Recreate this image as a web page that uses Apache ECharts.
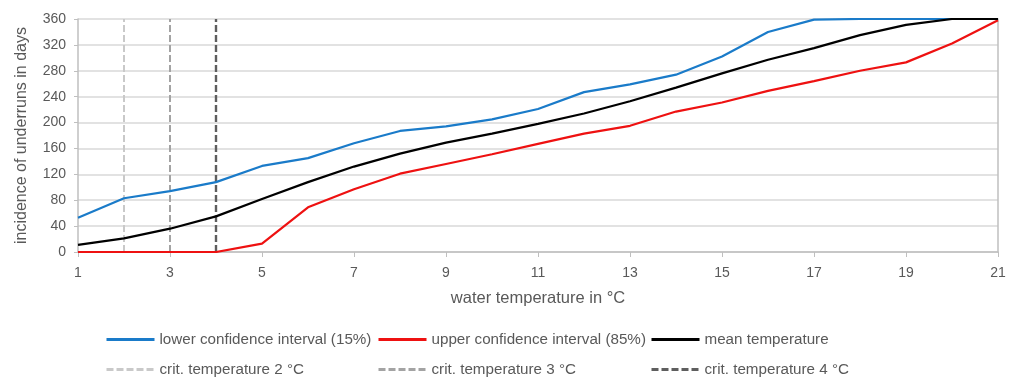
<!DOCTYPE html>
<html><head><meta charset="utf-8">
<script src="https://cdn.jsdelivr.net/npm/echarts@6/dist/echarts.min.js"></script>
<style>html,body{margin:0;padding:0;background:#fff}#c{width:1016px;height:378px}</style>
</head><body><div id="c"></div>
<script>
var categories = ['1','2','3','4','5','6','7','8','9','10','11','12','13','14','15','16','17','18','19','20','21'];
var lowerCI = [53,83,94,108,133,145,168,187,194,205,221,247,259,274,302,340,359,360,360,360,360];
var upperCI = [0,0,0,0,13,69,97,121,136,151,167,183,195,217,231,249,264,280,293,322,358];
var meanTemp = [11,21,36,55,82,108,132,152,169,183,198,214,233,254,276,297,315,335,351,360,360];
var critTemps = ['2','3','4'];
var critRange = [0,360];
var yTicks = [0,40,80,120,160,200,240,280,320,360];
var seriesNames = ['lower confidence interval (15%)','upper confidence interval (85%)','mean temperature',
  'crit. temperature 2 °C','crit. temperature 3 °C','crit. temperature 4 °C'];

var FONT = 'Liberation Sans';
var chart = echarts.init(document.getElementById('c'));
var critColors = ['#c9c9c9','#a3a3a3','#5e5e5e'];
var series = [
  {name: seriesNames[0], type:'line', data: lowerCI, color:'#1a7bc9', lineStyle:{width:2.2,color:'#1a7bc9'}, showSymbol:false, symbol:'none', z:5},
  {name: seriesNames[1], type:'line', data: upperCI, color:'#ee1111', lineStyle:{width:2.2,color:'#ee1111'}, showSymbol:false, symbol:'none', z:5},
  {name: seriesNames[2], type:'line', data: meanTemp, color:'#000', lineStyle:{width:2.2,color:'#000'}, showSymbol:false, symbol:'none', z:5}
];
critTemps.forEach(function(t,i){
  series.push({name: seriesNames[3+i], type:'line', data: critRange.map(function(v){return [t,v];}),
    color: critColors[i], lineStyle:{width: i===2 ? 2.4 : 2, type:[7,3], color: critColors[i]}, showSymbol:false, symbol:'none', z:3});
});
var legendPos = [[105,332],[377,332],[650,332],[105,362],[377,362],[650,362]];
var legends = seriesNames.map(function(n,i){
  return {data:[n], left:legendPos[i][0], top:legendPos[i][1], itemWidth:48, itemHeight:14, itemGap:0,
    itemStyle:{opacity:0}, lineStyle:{width:3, type: i>=3 ? [7,3] : 'solid'},
    textStyle:{fontFamily:FONT, fontSize:15.2, color:'#595959'}, selectedMode:false, padding:0};
});
chart.setOption({
  animation:false,
  textStyle:{fontFamily:FONT},
  legend: legends,
  grid:{left:78, right:18, top:19, bottom:126, containLabel:false},
  xAxis:{type:'category', data:categories, boundaryGap:false,
    name:'water temperature in °C', nameLocation:'middle', nameGap:38,
    nameTextStyle:{fontFamily:FONT, fontSize:16.5, color:'#595959'},
    axisLine:{lineStyle:{color:'#bfbfbf', width:1.5}},
    axisTick:{interval:1, length:5, lineStyle:{color:'#bfbfbf'}},
    axisLabel:{interval:1, fontFamily:FONT, fontSize:14, color:'#595959', margin:14},
    splitLine:{show:false}},
  yAxis:[{type:'value', min:yTicks[0], max:yTicks[yTicks.length-1], interval:40,
    name:'incidence of underruns in days', nameLocation:'middle', nameGap:48,
    nameTextStyle:{fontFamily:FONT, fontSize:16, color:'#595959'},
    axisLine:{show:true, lineStyle:{color:'#bfbfbf', width:1.5}},
    axisTick:{show:true, length:4, lineStyle:{color:'#bfbfbf'}},
    axisLabel:{fontFamily:FONT, fontSize:14, color:'#595959', margin:12},
    splitLine:{lineStyle:{color:'#d9d9d9', width:1.5}}},
   {type:'value', position:'right', min:0, max:360, interval:40,
    axisLine:{show:true, lineStyle:{color:'#bfbfbf', width:1.5}}, axisTick:{show:false}, axisLabel:{show:false}, splitLine:{show:false}}],
  series: series
});
</script></body></html>
